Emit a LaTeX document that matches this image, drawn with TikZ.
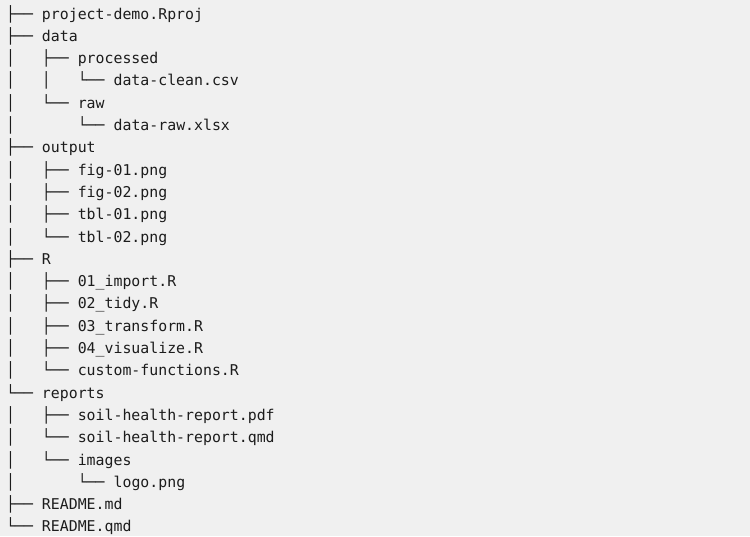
\documentclass[tikz,border=0pt]{standalone}
\usepackage{fontspec}
\newfontfamily\treefont{DejaVu Sans Mono}
\definecolor{bgcol}{HTML}{F0F0F0}
\definecolor{textcol}{HTML}{1C1C1C}
\tikzset{
  treeline/.style={anchor=base west, inner sep=0pt, outer sep=0pt,
    font=\treefont\fontsize{11.15pt}{13pt}\selectfont, text=textcol}
}
\begin{document}
\begin{tikzpicture}[x=0.75pt,y=-0.75pt]
\fill[bgcol] (0,0) rectangle (750,536);
\useasboundingbox (0,0) rectangle (750,536);
\def\xo{6.2}
\def\yo{19}
\def\dy{22.3}
\node[treeline] (r0)  at (\xo,\yo+0*\dy)  {├──~project-demo.Rproj};
\node[treeline] (r1)  at (\xo,\yo+1*\dy)  {├──~data};
\node[treeline] (r2)  at (\xo,\yo+2*\dy)  {│~~~├──~processed};
\node[treeline] (r3)  at (\xo,\yo+3*\dy)  {│~~~│~~~└──~data-clean.csv};
\node[treeline] (r4)  at (\xo,\yo+4*\dy)  {│~~~└──~raw};
\node[treeline] (r5)  at (\xo,\yo+5*\dy)  {│~~~~~~~└──~data-raw.xlsx};
\node[treeline] (r6)  at (\xo,\yo+6*\dy)  {├──~output};
\node[treeline] (r7)  at (\xo,\yo+7*\dy)  {│~~~├──~fig-01.png};
\node[treeline] (r8)  at (\xo,\yo+8*\dy)  {│~~~├──~fig-02.png};
\node[treeline] (r9)  at (\xo,\yo+9*\dy)  {│~~~├──~tbl-01.png};
\node[treeline] (r10) at (\xo,\yo+10*\dy) {│~~~└──~tbl-02.png};
\node[treeline] (r11) at (\xo,\yo+11*\dy) {├──~R};
\node[treeline] (r12) at (\xo,\yo+12*\dy) {│~~~├──~01\_import.R};
\node[treeline] (r13) at (\xo,\yo+13*\dy) {│~~~├──~02\_tidy.R};
\node[treeline] (r14) at (\xo,\yo+14*\dy) {│~~~├──~03\_transform.R};
\node[treeline] (r15) at (\xo,\yo+15*\dy) {│~~~├──~04\_visualize.R};
\node[treeline] (r16) at (\xo,\yo+16*\dy) {│~~~└──~custom-functions.R};
\node[treeline] (r17) at (\xo,\yo+17*\dy) {└──~reports};
\node[treeline] (r18) at (\xo,\yo+18*\dy) {│~~~├──~soil-health-report.pdf};
\node[treeline] (r19) at (\xo,\yo+19*\dy) {│~~~└──~soil-health-report.qmd};
\node[treeline] (r20) at (\xo,\yo+20*\dy) {│~~~└──~images};
\node[treeline] (r21) at (\xo,\yo+21*\dy) {│~~~~~~~└──~logo.png};
\node[treeline] (r22) at (\xo,\yo+22*\dy) {├──~README.md};
\node[treeline] (r23) at (\xo,\yo+23*\dy) {└──~README.qmd};
\end{tikzpicture}
\end{document}
